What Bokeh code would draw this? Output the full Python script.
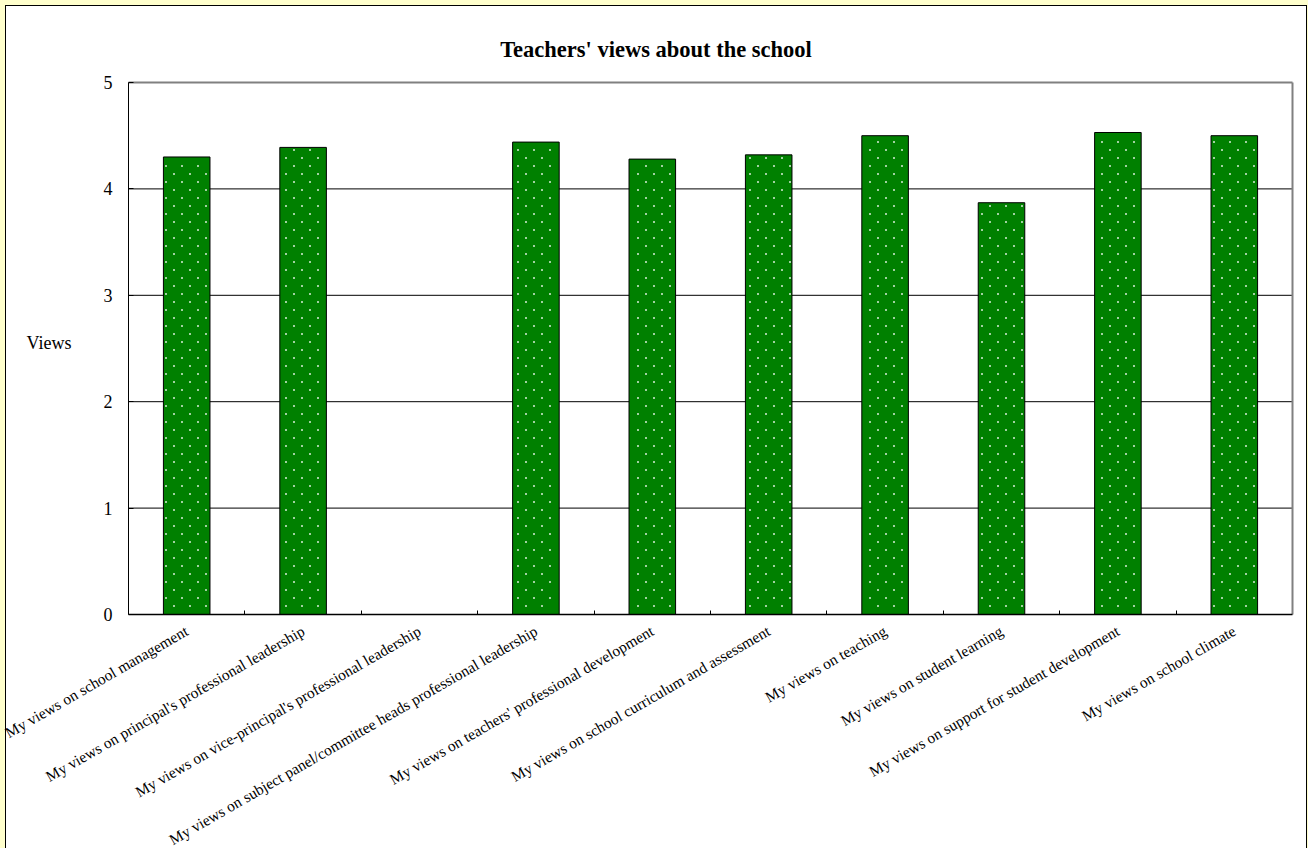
import numpy as np
from bokeh.plotting import figure
from bokeh.models import ColumnDataSource, FixedTicker, Label, Range1d
from bokeh.embed import file_html
from bokeh.resources import INLINE

title_text = "Teachers' views about the school"
y_axis_title = "Views"
categories = [
    "My views on school management",
    "My views on principal's professional leadership",
    "My views on vice-principal's professional leadership",
    "My views on subject panel/committee heads professional leadership",
    "My views on teachers' professional development",
    "My views on school curriculum and assessment",
    "My views on teaching",
    "My views on student learning",
    "My views on support for student development",
    "My views on school climate",
]
views = [4.30, 4.39, None, 4.44, 4.28, 4.32, 4.50, 3.87, 4.53, 4.50]
y_ticks = [0, 1, 2, 3, 4, 5]

FONT = "Liberation Serif"
W, H = 1308, 848
# plot-area placement on the canvas (pixels)
PL, PR, PT, PB = 128, 1292, 82, 614
BAR_W = 0.4

n = len(categories)
centers = [i + 0.5 for i in range(n)]
boundaries = [float(i) for i in range(1, n)]
tops = [np.nan if v is None else v for v in views]
src = ColumnDataSource(dict(x=centers, top=tops, name=categories))

y0, y1 = y_ticks[0], y_ticks[-1]
xs = n / (PR - PL)          # data units per px
ys = (y1 - y0) / (PB - PT)
x_range = Range1d(0 - PL * xs, n + (W - PR) * xs)
y_range = Range1d(y0 - (H - PB) * ys, y1 + PT * ys)

p = figure(width=W, height=H, output_backend="svg", toolbar_location=None,
           x_range=x_range, y_range=y_range,
           min_border_left=0, min_border_right=0, min_border_top=0,
           min_border_bottom=0, background_fill_color=None,
           border_fill_color=None, outline_line_color=None)
p.styles = {
    "background-color": "white",
    "box-shadow": ("inset 5px 0 0 0 #FFFFCC, inset 0 5px 0 0 #FFFFCC, "
                   "inset -1px 0 0 0 #FFFFCC, inset 6px 0 0 0 black, "
                   "inset 0 6px 0 0 black, inset -2px 0 0 0 black"),
}

# horizontal grid lines (inside the plot area only)
grid_vals = y_ticks[1:-1]
p.segment(x0=[0] * len(grid_vals), x1=[n] * len(grid_vals), y0=grid_vals,
          y1=grid_vals, line_color="black", line_width=1)
# top and right border of the plot area
p.segment(x0=[0, n], x1=[n, n], y0=[y1, y0], y1=[y1, y1],
          line_color="#808080", line_width=2)

p.vbar(x="x", top="top", bottom=0, width=BAR_W, source=src,
       fill_color="#008000", line_color="black", line_width=1)

# white dotted fill texture of the bars (page-anchored diamond lattice)
dot_x, dot_y = [], []
for c, t in zip(centers, tops):
    if not np.isfinite(t):
        continue
    lx = (c - BAR_W / 2 - x_range.start) / xs
    rx = (c + BAR_W / 2 - x_range.start) / xs
    ty = (y_range.end - t) / ys
    by = (y_range.end - y0) / ys
    k0 = int(np.ceil((ty + 1.5 - 5.5) / 8))
    k1 = int(np.floor((by - 1.5 - 5.5) / 8))
    for k in range(k0, k1 + 1):
        py = 5.5 + 8 * k
        off = 5.5 if k % 2 == 0 else 13.5
        m0 = int(np.ceil((lx + 1.5 - off) / 16))
        m1 = int(np.floor((rx - 1.5 - off) / 16))
        for m in range(m0, m1 + 1):
            px = off + 16 * m
            dot_x.append(x_range.start + px * xs)
            dot_y.append(y_range.end - py * ys)
p.scatter(x=dot_x, y=dot_y, marker="square", size=1.7,
          fill_color="white", line_color=None)

# x axis
xa = p.xaxis[0]
xa.fixed_location = 0
xa.bounds = (0, n)
xa.ticker = FixedTicker(ticks=centers, minor_ticks=boundaries)
xa.major_label_overrides = {c: lab for c, lab in zip(centers, categories)}
xa.major_tick_in = 0
xa.major_tick_out = 0
xa.major_tick_line_color = None
xa.minor_tick_in = 4
xa.minor_tick_out = 0
xa.minor_tick_line_color = "black"
xa.axis_line_color = "black"
xa.axis_line_width = 1.5
xa.major_label_orientation = float(np.deg2rad(30))
xa.major_label_text_font = FONT
xa.major_label_text_font_size = "15.5px"
xa.major_label_text_color = "black"
xa.major_label_standoff = 15

# y axis
ya = p.yaxis[0]
ya.fixed_location = 0
ya.bounds = (y0, y1)
ya.ticker = FixedTicker(ticks=y_ticks)
ya.major_tick_in = 5
ya.major_tick_out = 0
ya.minor_tick_line_color = None
ya.axis_line_color = "black"
ya.major_tick_line_color = "black"
ya.major_label_standoff = 16
ya.major_label_text_font = FONT
ya.major_label_text_font_size = "18px"
ya.major_label_text_color = "black"

p.xgrid.visible = False
p.ygrid.visible = False

p.add_layout(Label(x=655.5, x_units="screen", y=y1 + (PT - 49.3) * ys,
                   y_units="data", text=title_text, text_align="center",
                   text_baseline="alphabetic", text_font=FONT,
                   text_font_style="bold", text_font_size="22.5px",
                   text_color="black"))
p.add_layout(Label(x=26, x_units="screen", y=y0 + (PB - 342) * ys,
                   y_units="data", text=y_axis_title, text_align="left",
                   text_baseline="middle", text_font=FONT,
                   text_font_size="18px", text_color="black"))

open("out.html", "w").write(file_html(p, INLINE))
